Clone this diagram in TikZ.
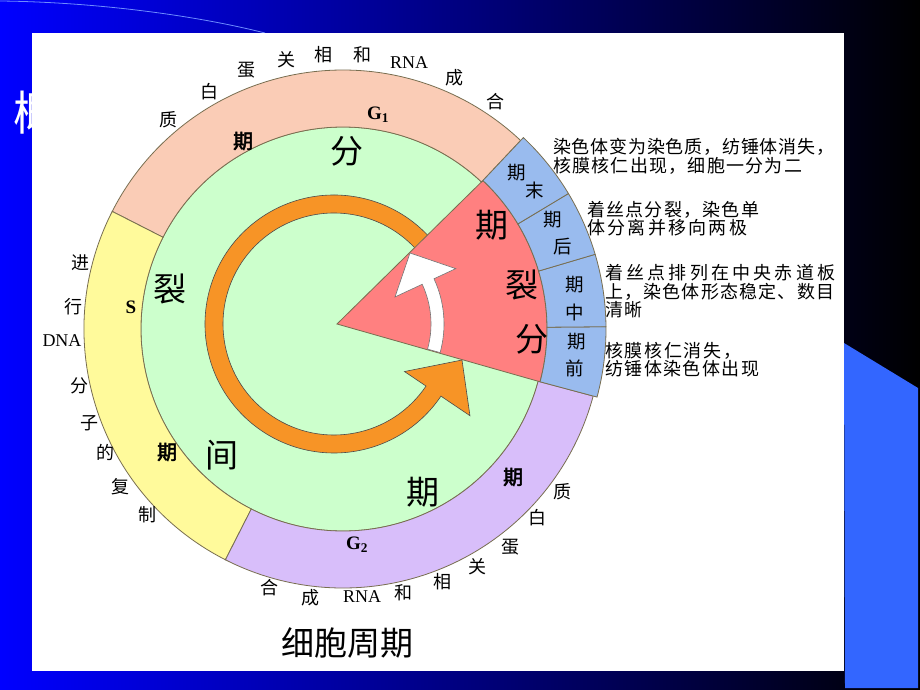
\documentclass[tikz,border=0pt]{standalone}
\usepackage{fontspec}
\setmainfont{Liberation Serif}
\newfontfamily\cjk{Noto Sans CJK SC}
\newfontfamily\cjkb[FakeBold=2.5]{Noto Sans CJK SC}
\usetikzlibrary{calc}
\definecolor{peach}{RGB}{250,204,182}
\definecolor{sy}{RGB}{255,250,155}
\definecolor{lav}{RGB}{216,190,250}
\definecolor{cgreen}{RGB}{204,255,204}
\definecolor{cblue}{RGB}{153,187,238}
\definecolor{cred}{RGB}{255,128,128}
\definecolor{corange}{RGB}{247,148,38}
\definecolor{rline}{RGB}{120,110,80}
\definecolor{lblue}{RGB}{51,102,255}
\definecolor{midblue}{RGB}{0,0,170}
\definecolor{arcblue}{RGB}{110,140,255}
\makeatletter
\def\sp@loop#1{\ifx\relax#1\else#1\hfil\expandafter\sp@loop\fi}
\newcommand\spreadline[2]{\hbox to #1{\sp@loop#2\relax\unskip}}
\makeatother
\newcommand\annseg[5]{%
  \filldraw[fill=#1, draw=rline, line width=0.8pt]
    ($(C)+(#2:#5)$) arc[start angle=#2, end angle=#3, radius=#5]
    -- ($(C)+(#3:#4)$) arc[start angle=#3, end angle=#2, radius=#4] -- cycle;}
\begin{document}
\begin{tikzpicture}[x=1pt,y=1pt,
  lab/.style={font=\cjk\fontsize{18}{18}\selectfont, inner sep=0},
  big/.style={font=\cjk\fontsize{33}{33}\selectfont, inner sep=0},
  bb/.style={font=\cjkb\fontsize{20}{20}\selectfont, inner sep=0},
  gl/.style={font=\bfseries\fontsize{19}{19}\selectfont, inner sep=0},
  rna/.style={font=\fontsize{18}{18}\selectfont, inner sep=0},
  seg/.style={font=\cjk\fontsize{18.5}{18.5}\selectfont, inner sep=0},
  desc/.style={font=\cjk\fontsize{18}{18}\selectfont, inner sep=0, anchor=west}]
\useasboundingbox (0,0) rectangle (920,-690);
% background
\shade[left color=blue, middle color=midblue, right color=black] (0,0) rectangle (920,-690);
\draw[arcblue, line width=0.8pt] (0,-1) .. controls (90,-2) and (190,-14) .. (265,-33);
\fill[lblue] (844,-343) -- (918,-388) -- (918,-688) -- (845,-688) -- cycle;
\node[font=\cjk\fontsize{47}{47}\selectfont, text=white, inner sep=0] (title) at (37,-113) {概};
\fill[white] (32,-33) rectangle (844,-671);
% geometry
\coordinate (C) at (343,-329);
\coordinate (O) at (334,-324);
\coordinate (P) at (337,-324);
% green disk
\filldraw[fill=cgreen, draw=rline, line width=0.8pt] (C) circle[radius=202];
% orange arrow
\filldraw[fill=corange, draw=black!70, line width=0.6pt]
  ($(O)+(35:129)$) arc[start angle=35, end angle=326, radius=129]
  -- ($(O)+(326:164)$) -- (462,-360) -- ($(O)+(326:85)$)
  -- ($(O)+(326:111)$) arc[start angle=326, end angle=35, radius=111] -- cycle;
% red sector
\filldraw[fill=cred, draw=rline, line width=0.8pt]
  (P) -- ($(C)+(46.7:204)$) arc[start angle=46.7, end angle=-15, radius=204] -- cycle;
% white arrow
\filldraw[fill=white, draw=black!55, line width=0.6pt]
  ($(P)+(-15.5:107)$) arc[start angle=-15.5, end angle=25, radius=107]
  -- ($(P)+(25:131)$) -- (410,-253) -- ($(P)+(25:64)$)
  -- ($(P)+(25:94)$) arc[start angle=25, end angle=-15.5, radius=94] -- cycle;
% rings
\annseg{peach}{46.7}{153}{202}{259}
\annseg{sy}{153}{243}{202}{259}
\annseg{lav}{243}{345}{202}{259}
\annseg{cblue}{-15}{0.5}{204}{263}
\annseg{cblue}{0.5}{16.5}{204}{263}
\annseg{cblue}{16.5}{31}{204}{263}
\annseg{cblue}{31}{46.7}{204}{263}
% ring labels
\node[gl] (g1) at (378,-115) {G\textsubscript{1}};
\node[bb] (q1) at (243,-141) {期};
\node[gl] (s) at (131,-307) {S};
\node[bb] (q2) at (167,-452) {期};
\node[gl] (g2) at (357,-545) {G\textsubscript{2}};
\node[bb] (q3) at (513,-477) {期};
% big labels
\node[big] (b1) at (347,-151) {分};
\node[big] (b2) at (170,-289) {裂};
\node[big] (b3) at (222,-455) {间};
\node[big] (b4) at (423,-492) {期};
\node[big] (r1) at (492,-225) {期};
\node[big] (r2) at (522,-285) {裂};
\node[big] (r3) at (532,-339) {分};
\node[big] (cap) at (347,-643) {细胞周期};
% blue segment labels
\node[seg] (m1) at (517,-173) {期};
\node[seg] (m2) at (535,-190) {末};
\node[seg] (h1) at (553,-220) {期};
\node[seg] (h2) at (563,-247) {后};
\node[seg] (z1) at (575,-285) {期};
\node[seg] (z2) at (575,-312) {中};
\node[seg] (p1) at (577,-342) {期};
\node[seg] (p2) at (575,-368) {前};
% outer labels G1
\node[lab] (a1) at (168,-120) {质};
\node[lab] (a2) at (209,-92) {白};
\node[lab] (a3) at (246,-70) {蛋};
\node[lab] (a4) at (286,-60) {关};
\node[lab] (a5) at (323,-55) {相};
\node[lab] (a6) at (362,-55) {和};
\node[rna] (a7) at (409,-63) {RNA};
\node[lab] (a8) at (454,-78) {成};
\node[lab] (a9) at (495,-102) {合};
% outer labels S
\node[lab] (c1) at (80,-263) {进};
\node[lab] (c2) at (73,-307) {行};
\node[rna] (c3) at (62,-341) {DNA};
\node[lab] (c4) at (79,-386) {分};
\node[lab] (c5) at (89,-423) {子};
\node[lab] (c6) at (105,-452) {的};
\node[lab] (c7) at (120,-487) {复};
\node[lab] (c8) at (147,-515) {制};
% outer labels G2
\node[lab] (d1) at (269,-588) {合};
\node[lab] (d2) at (310,-598) {成};
\node[rna] (d3) at (362,-597) {RNA};
\node[lab] (d4) at (403,-593) {和};
\node[lab] (d5) at (442,-582) {相};
\node[lab] (d6) at (477,-567) {关};
\node[lab] (d7) at (510,-547) {蛋};
\node[lab] (d8) at (537,-518) {白};
\node[lab] (d9) at (562,-492) {质};
% descriptions
\node[desc] (e1) at (553,-147) {\spreadline{281pt}{染色体变为染色质，纺锤体消失，}};
\node[desc] (e2) at (553,-166) {\spreadline{249pt}{核膜核仁出现，细胞一分为二}};
\node[desc] (e3) at (587,-210) {\spreadline{172pt}{着丝点分裂，染色单}};
\node[desc] (e4) at (587,-228) {\spreadline{160pt}{体分离并移向两极}};
\node[desc] (e5) at (605,-273) {\spreadline{230pt}{着丝点排列在中央赤道板}};
\node[desc] (e6) at (605,-292) {\spreadline{229pt}{上，染色体形态稳定、数目}};
\node[desc] (e7) at (605,-310) {\spreadline{37pt}{清晰}};
\node[desc] (e8) at (605,-351) {\spreadline{136pt}{核膜核仁消失，}};
\node[desc] (e9) at (605,-369) {\spreadline{154pt}{纺锤体染色体出现}};
\end{tikzpicture}
\end{document}
